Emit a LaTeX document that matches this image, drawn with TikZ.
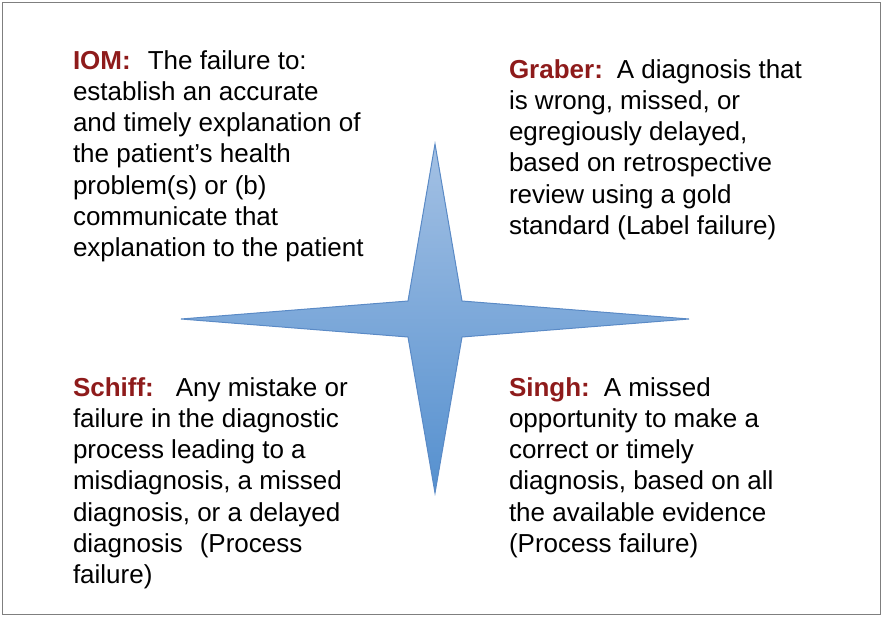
\documentclass[tikz,border=0pt]{standalone}
\usepackage{fontspec}
\setmainfont{Liberation Sans}
\usetikzlibrary{shadings}
\definecolor{hdred}{HTML}{8E1B1B}
\definecolor{startop}{HTML}{A4C1E4}
\definecolor{starbot}{HTML}{5590CF}
\definecolor{starline}{HTML}{5A8AC6}
\definecolor{frame}{HTML}{7F7F7F}
\newcommand{\hd}[1]{\textcolor{hdred}{\bfseries #1}}
\newcommand{\tblock}[1]{\vtop{\baselineskip=31.3pt #1}}
\tikzset{
  deftext/.style={anchor=base west, inner sep=0pt, outer sep=0pt,
    font=\fontsize{26}{31.3}\selectfont, text=black},
}
\begin{document}
\begin{tikzpicture}[x=1pt,y=-1pt]
\useasboundingbox (0,0) rectangle (882,616);
\draw[frame, line width=1pt] (2,2) rectangle (880,614);
% star corners
\coordinate (T) at (435,144);
\coordinate (B) at (435,493);
\coordinate (L) at (181,319);
\coordinate (R) at (689,319);
\coordinate (UL) at (408,301);
\coordinate (UR) at (462,301);
\coordinate (LL) at (408,337);
\coordinate (LR) at (462,337);
% shadow
\fill[black, opacity=0.12, shift={(1.5,2.5)}] (T) -- (UR) -- (R) -- (LR) -- (B) -- (LL) -- (L) -- (UL) -- cycle;
\shade[top color=startop, bottom color=starbot, draw=starline, line width=1pt, line join=miter]
  (T) -- (UR) -- (R) -- (LR) -- (B) -- (LL) -- (L) -- (UL) -- cycle;
% text blocks
\node[deftext] (iom) at (73,69) {\tblock{%
  \hbox{\hd{IOM:}\hskip 17pt The failure to:}%
  \hbox{establish an accurate}%
  \hbox{and timely explanation of}%
  \hbox{the patient’s health}%
  \hbox{problem(s) or (b)}%
  \hbox{communicate that}%
  \hbox{explanation to the patient}}};
\node[deftext] (graber) at (509,78) {\tblock{%
  \hbox{\hd{Graber:}\hskip 14pt A diagnosis that}%
  \hbox{is wrong, missed, or}%
  \hbox{egregiously delayed,}%
  \hbox{based on retrospective}%
  \hbox{review using a gold}%
  \hbox{standard (Label failure)}}};
\node[deftext] (schiff) at (73,396) {\tblock{%
  \hbox{\hd{Schiff:}\hskip 22pt Any mistake or}%
  \hbox{failure in the diagnostic}%
  \hbox{process leading to a}%
  \hbox{misdiagnosis, a missed}%
  \hbox{diagnosis, or a delayed}%
  \hbox{diagnosis\hskip 17pt(Process}%
  \hbox{failure)}}};
\node[deftext] (singh) at (509,396) {\tblock{%
  \hbox{\hd{Singh:}\hskip 14pt A missed}%
  \hbox{opportunity to make a}%
  \hbox{correct or timely}%
  \hbox{diagnosis, based on all}%
  \hbox{the available evidence}%
  \hbox{(Process failure)}}};
\end{tikzpicture}
\end{document}
